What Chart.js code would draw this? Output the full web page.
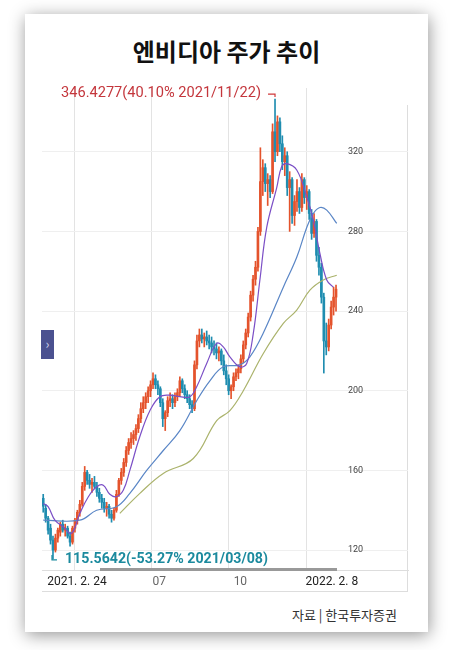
<!DOCTYPE html>
<html>
<head>
<meta charset="utf-8">
<script src="https://cdn.jsdelivr.net/npm/chart.js@4.4.1/dist/chart.umd.min.js"></script>
<style>
  body { margin: 0; width: 449px; height: 650px; overflow: hidden; background: #fff; font-family: 'Noto Sans CJK KR', sans-serif; }
  .card { position: absolute; left: 25px; top: 14px; width: 403px; height: 618px; background: #fff; box-shadow: 1px 3px 16px rgba(0,0,0,0.42); }
  .title { position: absolute; left: 25px; width: 403px; top: 33px; text-align: center; font-size: 24px; font-weight: bold; color: #111; line-height: 36px; }
  .source { position: absolute; right: 52px; top: 605px; font-size: 13px; color: #333; line-height: 20px; }
  #c { position: absolute; left: 30px; top: 80px; }
  .rline { position: absolute; left: 407px; top: 105px; width: 1px; height: 487px; background: #ddd; }
  .bline { position: absolute; left: 42px; top: 591px; width: 366px; height: 1px; background: #ddd; }
  .scroll { position: absolute; left: 100px; top: 568px; width: 237px; height: 3px; background: #999; }
  .btn { position: absolute; left: 41px; top: 330px; width: 13px; height: 29px; background: #4b5190; color: #c8cbe8; font-size: 13px; line-height: 27px; text-align: center; }
</style>
</head>
<body>
<div class="card"></div>
<div class="title">엔비디아 주가 추이</div>
<div class="rline"></div>
<div class="bline"></div>
<canvas id="c" width="390" height="510"></canvas>
<div class="scroll"></div>
<div class="btn">›</div>
<div class="source">자료 | 한국투자증권</div>
<script>
// candles, one per index (2021.2.24 ~ 2022.2.8)
const opens = [146,141,136,131,125,120,126,129,133,130,
  131,127,124,131,135,139,143,152,159,155,
  153,154,152,149,146,144,141,142,138,136,
  140,148,155,159,164,170,174,176,178,181,
  186,191,194,197,200,203,206,203,201,194,
  186,189,195,196,194,197,199,205,201,198,
  196,193,191,213,225,228,226,227,225,224,
  222,221,219,220,215,210,206,200,202,207,
  209,211,216,223,229,237,248,256,262,280,
  305,312,304,306,300,330,320,335,324,315,
  318,302,306,288,295,300,292,306,297,300,
  289,279,285,268,262,247,225,222,233,242,247];
const highs = [148,143,137,133,127,128,131,134,135,133,
  132,129,132,136,140,145,154,162,160,158,
  156,157,154,151,148,146,144,143,140,141,
  150,156,161,166,172,176,179,180,183,188,
  194,197,199,202,205,209,208,205,202,196,
  190,197,199,198,199,201,207,206,203,200,
  198,195,215,228,231,231,229,230,228,227,
  225,224,222,221,218,213,208,203,209,211,
  213,218,225,231,239,250,258,265,282,322,
  316,314,309,308,334,346.4277,338,337,328,322,
  320,310,307,298,306,302,309,307,303,301,
  291,289,286,272,264,249,234,236,245,252,253];
const lows = [139,134,128,123,115.5642,119,124,127,129,127,
  126,122,123,129,133,137,142,150,153,151,
  149,151,147,144,141,139,137,136,134,135,
  139,147,153,157,162,168,171,173,175,179,
  184,189,191,194,197,201,201,198,192,182,
  180,187,192,191,192,195,197,199,196,194,
  191,189,190,211,222,224,222,223,221,219,
  218,216,215,213,208,203,198,196,200,205,
  206,209,214,221,227,235,245,253,260,278,
  298,300,293,297,299,315,318,320,311,308,
  298,280,284,283,290,289,290,294,291,286,
  276,277,265,258,244,208.88,218,220,231,238,240];
const closes = [142,136,130,125,120,126,130,133,130,131,
  127,124,131,135,139,143,152,159,155,153,
  154,152,149,146,144,141,142,138,136,140,
  148,155,159,164,170,174,176,178,181,186,
  191,194,197,200,203,206,203,201,194,186,
  189,195,196,194,197,199,205,201,198,196,
  193,191,213,225,228,226,227,225,224,222,
  221,219,220,215,210,206,200,202,207,209,
  211,216,223,229,237,248,256,262,280,305,
  312,304,306,300,330,320,335,324,315,318,
  302,306,288,295,300,292,306,297,300,289,
  279,285,268,262,247,225,222,233,242,247,251];

// moving average lines (index, value)
const shortMaIdx = [0,2,4.8,8.2,11.6,15,18.5,21.9,24.6,27.3,30,32.8,35.5,39.6,43.7,47.8,51.9,56,60.1,62.9,67,71.1,73.8,76.5,80.6,83.4,86.1,88.8,91.6,95.7,97.7,99.8,103.9,108,110.7,113.4,116.2,118.9];
const shortMa = [143.4,141.8,135,131.7,128.4,138.4,146.8,151.8,152.6,148,146.8,150,160,177,190,197,197.8,197,197,202,213.7,223.8,222,217,212,213.7,228.8,255.6,282,302,312.5,314,310.8,297.4,285.7,269,255.6,252];
const midMaIdx = [0,15,21.9,30,35.5,42.4,49.2,56,62.9,68.3,73.8,80.6,84.7,90.2,98.4,103.9,108,110.7,113.4,116.2,120.3];
const midMa = [135,135,140,141.8,148.5,160,170,180,195,205,212,213,217,229,252,267,282,289,292,290.7,284];
const longMaIdx = [31.4,39.6,49.2,61.5,71.1,76.5,82,90.2,98.4,103.9,109.3,114.8,120.3];
const longMa = [138.4,148.5,158.5,166,185,190,200,218.7,233.8,240.5,250.5,255.6,258];

const yTicks = [120, 160, 200, 240, 280, 320];
const gridIdx = [12.7, 44.3, 76.1, 108];
const xLabelIdx = [13.8, 47.6, 80.8, 118.3];
const xLabels = ['2021. 2. 24', '07', '10', '2022. 2. 8'];

const maxIdx = 95, minIdx = 4;
const maxText = '346.4277(40.10% 2021/11/22)';
const minText = '115.5642(-53.27% 2021/03/08)';

const UP = '#e4532c', DOWN = '#1f8db0';
const candleColors = closes.map((c, i) => c >= opens[i] ? UP : DOWN);

// axis labels placed from the scales (y labels sit inside the plot, left of the right edge)
const axisLabels = {
    id: 'axisLabels',
    afterDraw(chart) {
        const ctx = chart.ctx, area = chart.chartArea;
        const xs = chart.scales.x, ys = chart.scales.y;
        ctx.save();
        ctx.textBaseline = 'middle';
        ctx.font = '9px Roboto';
        ctx.fillStyle = '#444';
        ctx.textAlign = 'left';
        ys.ticks.forEach(t => ctx.fillText(String(t.value), area.right - 60, ys.getPixelForValue(t.value)));
        ctx.font = '12px Roboto';
        ctx.textAlign = 'center';
        xLabelIdx.forEach((v, i) => {
            ctx.fillStyle = (i === 0 || i === 3) ? '#222' : '#666';
            ctx.fillText(xLabels[i], xs.getPixelForValue(v), area.bottom + 12);
        });
        ctx.restore();
    }
};

const extremes = {
    id: 'extremes',
    afterDatasetsDraw(chart) {
        const ctx = chart.ctx;
        const xs = chart.scales.x, ys = chart.scales.y;
        ctx.save();
        ctx.lineWidth = 1.2;
        // highest
        let px = xs.getPixelForValue(maxIdx), py = ys.getPixelForValue(highs[maxIdx]);
        ctx.strokeStyle = '#d0383a';
        ctx.beginPath();
        ctx.moveTo(px - 7, py - 5); ctx.lineTo(px, py - 5); ctx.lineTo(px, py - 2);
        ctx.stroke();
        ctx.fillStyle = '#c4363c';
        ctx.font = '14.6px Roboto';
        ctx.textAlign = 'right';
        ctx.textBaseline = 'middle';
        ctx.fillText(maxText, px - 14, py - 6);
        // lowest
        px = xs.getPixelForValue(minIdx); py = ys.getPixelForValue(lows[minIdx]);
        ctx.strokeStyle = '#1b8a9e';
        ctx.beginPath();
        ctx.moveTo(px - 1, py - 4); ctx.lineTo(px - 1, py + 1); ctx.lineTo(px + 4, py + 1);
        ctx.stroke();
        ctx.fillStyle = '#1b8a9e';
        ctx.font = 'bold 14.2px Roboto';
        ctx.textAlign = 'left';
        ctx.fillText(minText, px + 12, py + 1);
        ctx.restore();
    }
};

const lineStyle = (color) => ({
    type: 'line', borderColor: color, borderWidth: 1.2, pointRadius: 0,
    tension: 0.4, fill: false, order: 0
});

new Chart(document.getElementById('c'), {
    type: 'bar',
    data: {
        datasets: [
            Object.assign(lineStyle('#7b4fc6'), { data: shortMaIdx.map((x, i) => ({ x, y: shortMa[i] })) }),
            Object.assign(lineStyle('#5a86c6'), { data: midMaIdx.map((x, i) => ({ x, y: midMa[i] })) }),
            Object.assign(lineStyle('#abb36c'), { data: longMaIdx.map((x, i) => ({ x, y: longMa[i] })) }),
            {
                data: closes.map((c, i) => ({ x: i, y: [lows[i], highs[i]] })),
                backgroundColor: candleColors, barThickness: 1, grouped: false, order: 2
            },
            {
                data: closes.map((c, i) => ({ x: i, y: [Math.min(opens[i], c), Math.max(opens[i], c)] })),
                backgroundColor: candleColors, barThickness: 2, minBarLength: 1, grouped: false, order: 1
            }
        ]
    },
    options: {
        responsive: false,
        animation: false,
        layout: { padding: { left: 12, right: 12, top: 8, bottom: 20 } },
        plugins: { legend: { display: false }, tooltip: { enabled: false } },
        scales: {
            x: {
                type: 'linear', min: -0.5, max: 149.5, offset: false, position: 'bottom',
                afterBuildTicks: s => { s.ticks = gridIdx.map(v => ({ value: v })); },
                ticks: { display: false },
                grid: { color: '#e3e3e3', drawTicks: false, offset: false },
                border: { color: '#dddddd' }
            },
            y: {
                type: 'linear', min: 110, max: 352, position: 'right',
                afterBuildTicks: s => { s.ticks = yTicks.map(v => ({ value: v })); },
                ticks: { display: false },
                grid: { color: '#efefef', drawTicks: false },
                border: { display: false }
            }
        }
    },
    plugins: [extremes, axisLabels]
});
</script>
</body>
</html>
